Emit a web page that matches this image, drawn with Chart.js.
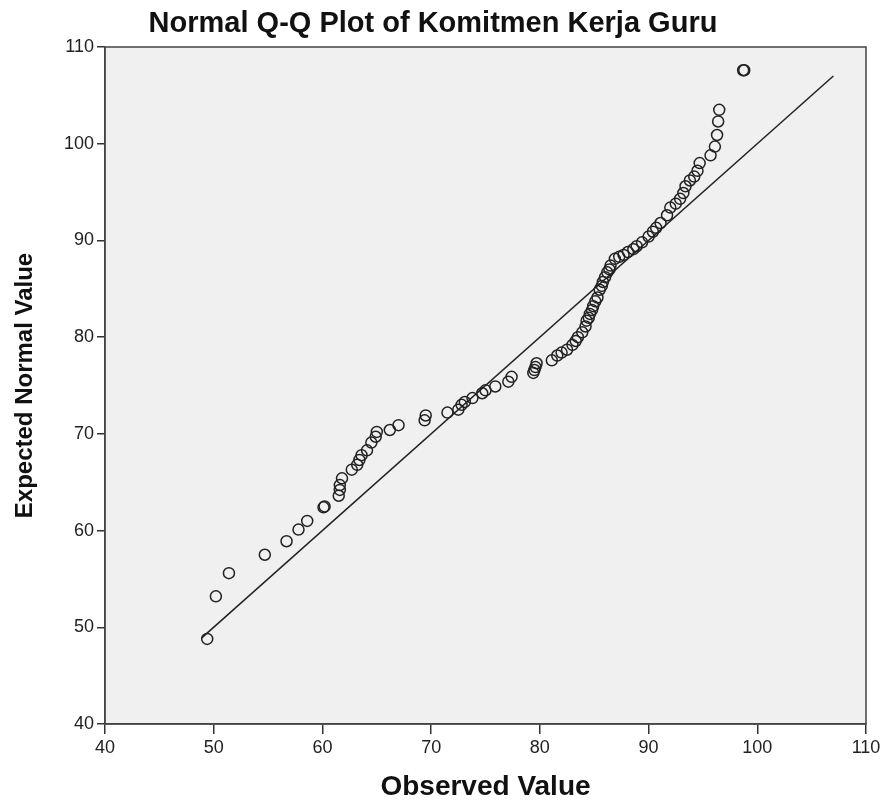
<!DOCTYPE html>
<html>
<head>
<meta charset="utf-8">
<script src="https://cdn.jsdelivr.net/npm/chart.js@4.4.1/dist/chart.umd.min.js"></script>
<style>
  html, body { margin: 0; padding: 0; background: #ffffff; }
  #wrap { width: 880px; height: 801px; }
</style>
</head>
<body>
<div id="wrap"><canvas id="chart" width="880" height="801"></canvas></div>
<script>
const observed = [
  49.4, 50.2, 51.4, 54.7, 56.7, 57.8, 58.6, 60.1, 60.2, 61.5,
  61.6, 61.6, 61.8, 62.7, 63.2, 63.4, 63.6, 64.1, 64.5, 64.9,
  65.0, 66.2, 67.0, 69.4, 69.5, 71.5, 72.5, 72.8, 73.1, 73.8,
  74.7, 75.0, 75.9, 77.1, 77.4, 79.4, 79.5, 79.6, 79.7, 81.1,
  81.6, 82.0, 82.5, 83.0, 83.3, 83.5, 83.9, 84.2, 84.3, 84.5,
  84.6, 84.8, 84.9, 85.1, 85.3, 85.5, 85.7, 85.8, 86.0, 86.2,
  86.4, 86.5, 86.9, 87.3, 87.7, 88.1, 88.6, 88.9, 89.4, 90.0,
  90.4, 90.7, 91.1, 91.7, 92.0, 92.5, 92.9, 93.2, 93.4, 93.8,
  94.2, 94.5, 94.7, 95.7, 96.1, 96.3, 96.4, 96.5, 98.7, 98.8
];
// expected normal values (y)
const expected = [
  48.8, 53.2, 55.6, 57.5, 58.9, 60.1, 61.0, 62.4, 62.5, 63.6,
  64.2, 64.7, 65.4, 66.3, 66.8, 67.3, 67.8, 68.3, 69.1, 69.7,
  70.2, 70.4, 70.9, 71.4, 71.9, 72.2, 72.5, 73.0, 73.3, 73.7,
  74.2, 74.5, 74.9, 75.4, 75.9, 76.3, 76.6, 76.9, 77.3, 77.6,
  78.1, 78.4, 78.7, 79.2, 79.6, 80.0, 80.5, 81.1, 81.7, 82.0,
  82.4, 82.8, 83.2, 83.7, 84.1, 84.9, 85.3, 85.7, 86.2, 86.7,
  87.0, 87.4, 88.1, 88.3, 88.5, 88.8, 89.1, 89.4, 89.8, 90.4,
  90.9, 91.3, 91.8, 92.6, 93.4, 93.8, 94.3, 94.9, 95.6, 96.2,
  96.6, 97.2, 98.0, 98.8, 99.7, 100.9, 102.3, 103.5, 107.6, 107.6
];
// reference line y = x
const lineEnds = [48.9, 107.0];

const axisMin = 40;
const axisMax = 110;
const tickStep = 10;

const points = observed.map((v, i) => ({ x: v, y: expected[i] }));
const refLine = lineEnds.map(v => ({ x: v, y: v }));

const fontFam = 'Liberation Sans, Arial, sans-serif';

// grey plot area and frame
const plotFrame = {
  id: 'plotFrame',
  beforeDraw(chart) {
    const a = chart.chartArea;
    const ctx = chart.ctx;
    ctx.save();
    ctx.fillStyle = '#f0f0f0';
    ctx.fillRect(a.left, a.top, a.right - a.left, a.bottom - a.top);
    ctx.restore();
  },
  afterDraw(chart) {
    const a = chart.chartArea;
    const ctx = chart.ctx;
    ctx.save();
    ctx.strokeStyle = '#444';
    ctx.lineWidth = 1.5;
    ctx.strokeRect(a.left, a.top, a.right - a.left, a.bottom - a.top);
    ctx.restore();
  }
};

function renderChart() {
  const ctx = document.querySelector('#chart').getContext('2d');
  new Chart(ctx, {
    type: 'scatter',
    data: {
      datasets: [
        {
          label: 'Observed',
          data: points,
          pointStyle: 'circle',
          pointRadius: 5.5,
          pointBackgroundColor: 'rgba(0,0,0,0)',
          pointBorderColor: '#222',
          pointBorderWidth: 1.5
        },
        {
          type: 'line',
          label: 'Reference',
          data: refLine,
          borderColor: '#222',
          borderWidth: 1.5,
          pointRadius: 0,
          fill: false
        }
      ]
    },
    options: {
      responsive: false,
      animation: false,
      layout: { padding: { left: 0, right: 14, top: 0, bottom: 0 } },
      plugins: {
        legend: { display: false },
        tooltip: { enabled: false },
        title: {
          display: true,
          text: 'Normal Q-Q Plot of Komitmen Kerja Guru',
          color: '#111',
          font: { family: fontFam, size: 29, weight: 'bold', lineHeight: 1.1 },
          padding: { top: 8, bottom: 7.1 }
        }
      },
      scales: {
        x: {
          type: 'linear',
          min: axisMin,
          max: axisMax,
          ticks: {
            stepSize: tickStep,
            color: '#222',
            padding: 3,
            font: { family: fontFam, size: 18 }
          },
          grid: { drawOnChartArea: false, drawTicks: true, tickLength: 10, color: '#333', lineWidth: 1.5 },
          border: { color: '#444', width: 1.5 },
          title: {
            display: true,
            text: 'Observed Value',
            color: '#111',
            font: { family: fontFam, size: 28, weight: 'bold', lineHeight: 1 },
            padding: { top: 0, bottom: 0 }
          },
          afterFit(scale) {
            scale.height = 77;
            scale.paddingRight = 0;
          }
        },
        y: {
          type: 'linear',
          min: axisMin,
          max: axisMax,
          ticks: {
            stepSize: tickStep,
            color: '#222',
            padding: 3,
            font: { family: fontFam, size: 18 }
          },
          grid: { drawOnChartArea: false, drawTicks: true, tickLength: 8, color: '#333', lineWidth: 1.5 },
          border: { color: '#444', width: 1.5 },
          title: {
            display: true,
            text: 'Expected Normal Value',
            color: '#111',
            font: { family: fontFam, size: 24, weight: 'bold', lineHeight: 1 },
            padding: { top: 13, bottom: 0 }
          },
          afterFit(scale) { scale.width = 105; }
        }
      }
    },
    plugins: [plotFrame]
  });
}
renderChart();
</script>
</body>
</html>
